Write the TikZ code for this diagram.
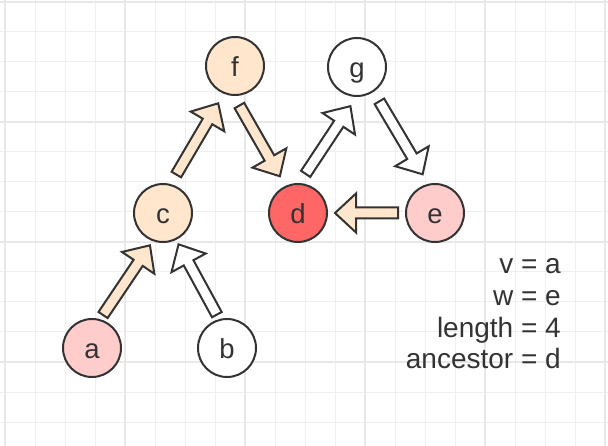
\documentclass[tikz,border=0pt]{standalone}
\usepackage{fontspec}
\setmainfont{Liberation Sans}
\usetikzlibrary{calc}

\definecolor{ink}{HTML}{333333}
\definecolor{peach}{HTML}{FFE6CC}
\definecolor{rose}{HTML}{FFCCCC}
\definecolor{redfill}{HTML}{FF6666}
\definecolor{gridgray}{HTML}{EFEFEF}
\definecolor{gridgraydark}{HTML}{E8E8E8}

\tikzset{
    vertex/.style={circle, draw=ink, line width=2pt, minimum size=58pt, inner sep=0pt,
        text=ink, font=\fontsize{27.5}{32}\selectfont, text height=22pt, text depth=0pt},
    blockarrow/.style={draw=ink, line width=2pt, line join=miter},
    note/.style={text=ink, font=\fontsize{28}{32}\selectfont, inner sep=0pt, anchor=base east},
    gridminor/.style={draw=gridgray, line width=1pt},
    gridmajor/.style={draw=gridgraydark, line width=1.5pt}
}

% fat arrow: fill, from, to, gap
\newcommand{\blockarrow}[4]{%
    \draw [blockarrow, fill=#1] let \p1=($(#2)!#4!(#3)$), \p2=($(#3)!#4!(#2)$),
        \n1={atan2(\y2-\y1,\x2-\x1)}, \n2={veclen(\x2-\x1,\y2-\y1)-21pt} in
        ($(\p1)+(\n1+90:5.5pt)$) -- ($(\p1)+(\n1:\n2)+(\n1+90:5.5pt)$)
        -- ($(\p1)+(\n1:\n2)+(\n1+90:19.5pt)$) -- (\p2)
        -- ($(\p1)+(\n1:\n2)+(\n1-90:19.5pt)$) -- ($(\p1)+(\n1:\n2)+(\n1-90:5.5pt)$)
        -- ($(\p1)+(\n1-90:5.5pt)$) -- cycle;
}

\begin{document}
\begin{tikzpicture}[x=1pt, y=-1pt]
    \useasboundingbox [fill=white] (0, 0) rectangle (608, 446);
    \foreach \gx in {5, 35, ..., 605}
        \draw [gridminor] (\gx, 0) -- (\gx, 446);
    \foreach \gy in {2, 32, ..., 446}
        \draw [gridminor] (0, \gy) -- (608, \gy);
    \foreach \gx in {5, 125, ..., 605}
        \draw [gridmajor] (\gx, 0) -- (\gx, 446);
    \foreach \gy in {2, 122, ..., 446}
        \draw [gridmajor] (0, \gy) -- (608, \gy);

    \node [vertex, fill=peach] (f) at (235, 66) {f};
    \node [vertex, fill=white] (g) at (357, 67) {g};
    \node [vertex, fill=peach] (c) at (163, 213) {c};
    \node [vertex, fill=redfill] (d) at (298, 213) {d};
    \node [vertex, fill=rose] (e) at (435, 213) {e};
    \node [vertex, fill=rose] (a) at (92, 348) {a};
    \node [vertex, fill=white] (b) at (227, 348) {b};

    \blockarrow{peach}{c.75}{f.248}{11pt}
    \blockarrow{peach}{f.268}{d.115}{11pt}
    \blockarrow{white}{d.87}{g.269}{11pt}
    \blockarrow{white}{g.304}{e.103}{11pt}
    \blockarrow{peach}{e.180}{d.0}{7pt}
    \blockarrow{peach}{a.74}{c.250}{5pt}
    \blockarrow{white}{b.105}{c.296}{5pt}

    \node [note] (v) at (561, 274) {v = a};
    \node [note] (w) at (561, 305.5) {w = e};
    \node [note] (length) at (561, 337.5) {length = 4};
    \node [note] (ancestor) at (561, 369) {ancestor = d};
\end{tikzpicture}
\end{document}
